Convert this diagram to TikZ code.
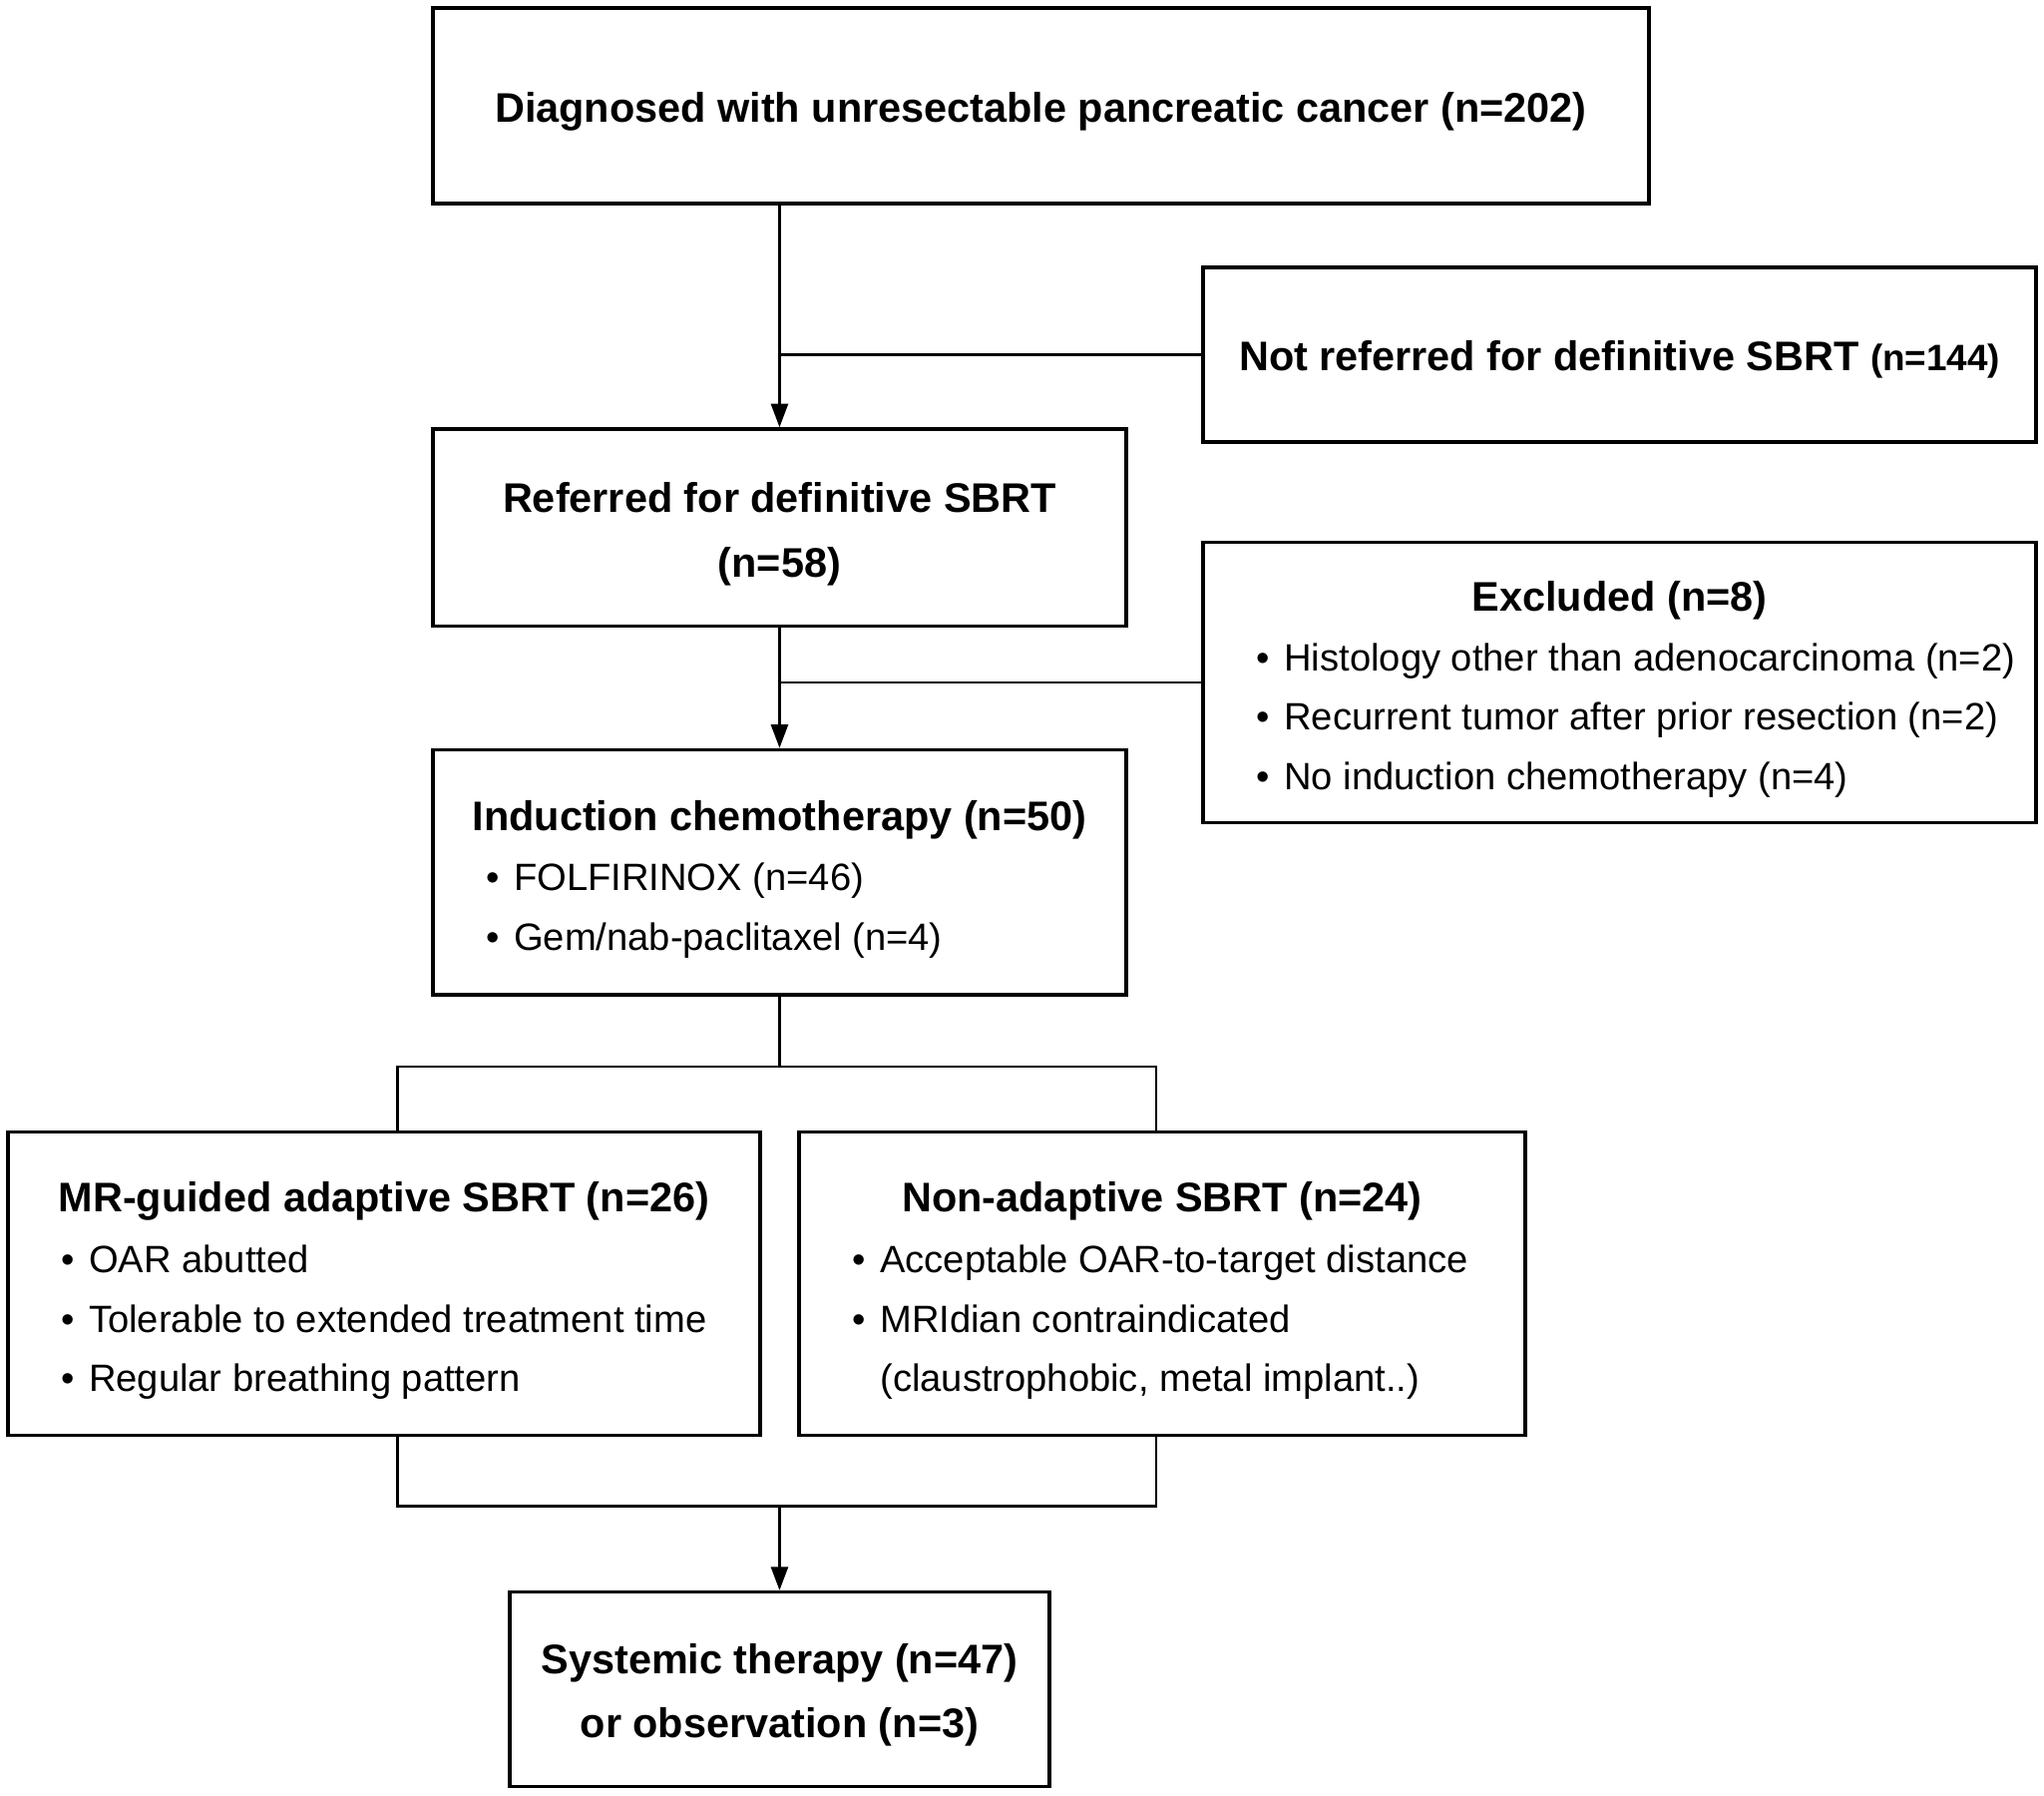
\documentclass[tikz,border=0pt]{standalone}
\usepackage{fontspec}
\setmainfont{Liberation Sans}
\usetikzlibrary{arrows.meta}
\newcommand{\bul}{\makebox[21pt][l]{•}}
\begin{document}
\begin{tikzpicture}[x=1pt,y=-1pt,
  box/.style={draw, line width=2.6pt, inner sep=0pt},
  conn/.style={line width=2pt},
  arr/.style={conn, -{Triangle[length=18pt,width=13pt]}},
  tb/.style={font=\fontsize{31.7}{38}\selectfont\bfseries, inner sep=0pt, anchor=base},
  tr/.style={font=\fontsize{29.2}{35}\selectfont, inner sep=0pt, anchor=base west},
]
\useasboundingbox (0,0) rectangle (1568,1377);
% boxes
\node[box, minimum width=933pt, minimum height=150pt] (b1) at (798.5,81) {};
\node[box, minimum width=639pt, minimum height=134pt] (b2) at (1242.5,272) {};
\node[box, minimum width=532pt, minimum height=151pt] (b3) at (598,404.5) {};
\node[box, minimum width=639pt, minimum height=215pt] (b4) at (1242.5,523.5) {};
\node[box, minimum width=532pt, minimum height=188pt] (b5) at (598,669) {};
\node[box, minimum width=577pt, minimum height=233pt] (b6) at (294.5,984.5) {};
\node[box, minimum width=557pt, minimum height=233pt] (b7) at (891.5,984.5) {};
\node[box, minimum width=414pt, minimum height=149pt] (b8) at (598,1295.5) {};
% texts
\node[tb] (t1) at (798.5,94) {Diagnosed with unresectable pancreatic cancer (n=202)};
\node[tb] (t2) at (1242.5,284) {Not referred for definitive SBRT {\fontsize{28.2}{34}\selectfont(n=144)}};
\node[tb] (t3a) at (598,393) {Referred for definitive SBRT};
\node[tb] (t3b) at (598,443) {(n=58)};
\node[tb] (t4) at (1242.5,469) {Excluded (n=8)};
\node[tr] (t4a) at (964,515) {\bul Histology other than adenocarcinoma (n=2)};
\node[tr] (t4b) at (964,560) {\bul Recurrent tumor after prior resection (n=2)};
\node[tr] (t4c) at (964,606) {\bul No induction chemotherapy (n=4)};
\node[tb] (t5) at (598,637) {Induction chemotherapy (n=50)};
\node[tr] (t5a) at (373,683) {\bul FOLFIRINOX (n=46)};
\node[tr] (t5b) at (373,729) {\bul Gem/nab-paclitaxel (n=4)};
\node[tb] (t6) at (294.5,929) {MR-guided adaptive SBRT (n=26)};
\node[tr] (t6a) at (47,976) {\bul OAR abutted};
\node[tr] (t6b) at (47,1022) {\bul Tolerable to extended treatment time};
\node[tr] (t6c) at (47,1067) {\bul Regular breathing pattern};
\node[tb] (t7) at (891.5,929) {Non-adaptive SBRT (n=24)};
\node[tr] (t7a) at (654,976) {\bul Acceptable OAR-to-target distance};
\node[tr] (t7b) at (654,1022) {\bul MRIdian contraindicated};
\node[tr] (t7c) at (675,1067) {(claustrophobic, metal implant..)};
\node[tb] (t8a) at (598,1284) {Systemic therapy (n=47)};
\node[tb] (t8b) at (598,1333) {or observation (n=3)};
% connectors
\draw[arr] (b3.north |- b1.south) -- (b3.north);
\draw[conn] (b2.west) -- (b2.west -| b3.north);
\draw[arr] (b3.south) -- (b5.north);
\draw[conn] (b4.west) -- (b4.west -| b3.south);
\coordinate (l1) at (305,818);
\coordinate (r1) at (887,818);
\draw[conn] (b5.south) -- (b5.south |- l1);
\draw[conn] (l1 |- b6.north) -- (l1) -- (r1) -- (r1 |- b7.north);
\coordinate (l2) at (305,1155);
\coordinate (r2) at (887,1155);
\draw[conn] (l2 |- b6.south) -- (l2) -- (r2) -- (r2 |- b7.south);
\draw[arr] (b8.north |- l2) -- (b8.north);
\end{tikzpicture}
\end{document}
